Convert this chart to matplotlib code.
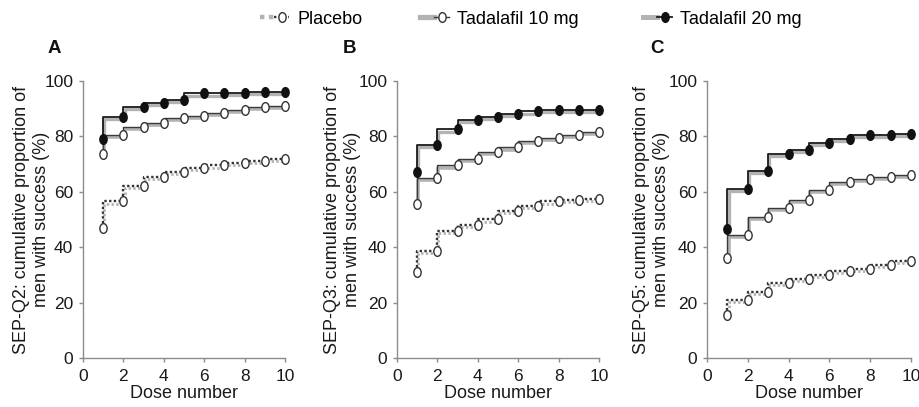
import matplotlib
matplotlib.use("Agg")
import matplotlib.pyplot as plt
import matplotlib.patheffects as pe
from matplotlib.path import Path
from matplotlib.transforms import Affine2D
from matplotlib.lines import Line2D
from matplotlib.legend_handler import HandlerTuple

plt.rcParams['font.family'] = ['Liberation Sans', 'DejaVu Sans']

# ---------------------------------------------------------------
# data (cumulative % of men with success)
# ---------------------------------------------------------------
doses = [1, 2, 3, 4, 5, 6, 7, 8, 9, 10]

placebo_q2 = [47, 56.5, 62, 65.5, 67, 68.5, 69.5, 70.5, 71, 72]
tad10_q2 = [73.5, 80.5, 83.5, 85, 86.5, 87.5, 88.5, 89.5, 90.5, 91]
tad20_q2 = [79, 87, 90.5, 92, 93, 95.5, 95.5, 95.7, 96, 96]

placebo_q3 = [31, 38.5, 46, 48, 50, 53, 55, 56.5, 57, 57.5]
tad10_q3 = [55.5, 65, 69.5, 72, 74.5, 76, 78.5, 79.5, 80.5, 81.5]
tad20_q3 = [67, 77, 82.5, 86, 87, 88, 89, 89.5, 89.5, 89.5]

placebo_q5 = [15.5, 21, 24, 27, 28.5, 30, 31.5, 32, 33.5, 35]
tad10_q5 = [36, 44.5, 51, 54, 57, 60.5, 63.5, 64.5, 65.5, 66]
tad20_q5 = [46.5, 61, 67.5, 73.5, 75, 77.5, 79, 80.5, 80.5, 81]

panel_letters = ["A", "B", "C"]
ylabels = ["SEP-Q2: cumulative proportion of\nmen with success (%)",
           "SEP-Q3: cumulative proportion of\nmen with success (%)",
           "SEP-Q5: cumulative proportion of\nmen with success (%)"]
series_names = ["Placebo", "Tadalafil 10 mg", "Tadalafil 20 mg"]

panels = [
    (placebo_q2, tad10_q2, tad20_q2),
    (placebo_q3, tad10_q3, tad20_q3),
    (placebo_q5, tad10_q5, tad20_q5),
]

# slightly tall oval marker like the scanned figure
OVAL = Path.unit_circle().transformed(Affine2D().scale(0.75, 1.0))

SHADOW = '#b3b3b3'
styles = [
    dict(ls=(0, (1, 1)), lw=1.7, color='#333333', mfc='white', mec='#333333',
         shadow_lw=2.0),
    dict(ls='-', lw=1.0, color='#3a3a3a', mfc='white', mec='#333333',
         shadow_lw=2.6),
    dict(ls='-', lw=1.3, color='#1a1a1a', mfc='#111111', mec='#111111',
         shadow_lw=2.4),
]

fig = plt.figure(figsize=(9.2, 4.07), dpi=100)

axes_rects = [
    [0.0902, 0.1204, 0.2196, 0.6806],
    [0.4315, 0.1204, 0.2196, 0.6806],
    [0.7685, 0.1204, 0.2217, 0.6806],
]
letter_x = [48 / 920, 343 / 920, 650 / 920]
ylabel_x = [-0.165, -0.180, -0.183]

for i, rect in enumerate(axes_rects):
    ax = fig.add_axes(rect)
    for values, st in zip(panels[i], styles):
        shadow = pe.SimpleLineShadow(offset=(0.8, -1.5), shadow_color=SHADOW,
                                     alpha=1.0, linewidth=st['shadow_lw'])
        ax.step(doses, values, where='pre', ls=st['ls'], lw=st['lw'],
                color=st['color'], clip_on=False, zorder=3,
                path_effects=[shadow, pe.Normal()])
        ax.plot(doses, values, ls='none', marker=OVAL, ms=7,
                mfc=st['mfc'], mec=st['mec'], mew=1.0,
                clip_on=False, zorder=4)

    ax.set_xlim(0, 10)
    ax.set_ylim(0, 100)
    ax.set_xticks([0, 2, 4, 6, 8, 10])
    ax.set_yticks([0, 20, 40, 60, 80, 100])
    for side in ['top', 'right']:
        ax.spines[side].set_visible(False)
    for side in ['left', 'bottom']:
        ax.spines[side].set_color('#8c8c8c')
        ax.spines[side].set_linewidth(1.0)
    ax.tick_params(direction='out', length=3, width=1, colors='#8c8c8c',
                   labelcolor='#1a1a1a', labelsize=12.5)
    ax.tick_params(axis='x', pad=5)
    ax.tick_params(axis='y', pad=4)
    ax.set_xlabel("Dose number", fontsize=13, color='#1a1a1a', labelpad=1)
    ax.set_ylabel(ylabels[i], fontsize=13, color='#1a1a1a')
    ax.yaxis.set_label_coords(ylabel_x[i], 0.5)
    fig.text(letter_x[i], (407 - 53) / 407, panel_letters[i], fontsize=13.5,
             fontweight='bold', color='#111111', ha='left', va='baseline')

# legend entries at the top, placed one by one like the original
legend_x = [260, 420, 643]
for st, name, lx in zip(styles, series_names, legend_x):
    back = Line2D([], [], color=SHADOW, lw=st['shadow_lw'] + 1.2, ls=st['ls'])
    front = Line2D([], [], color=st['color'], lw=st['lw'], ls=st['ls'],
                   marker=OVAL, ms=7, mfc=st['mfc'], mec=st['mec'], mew=1.0)
    fig.legend([(back, front)], [name], loc='center left',
               bbox_to_anchor=(lx / 920, 1 - 19 / 407), frameon=False,
               fontsize=13, handlelength=1.6, handletextpad=0.45,
               borderpad=0, borderaxespad=0,
               handler_map={tuple: HandlerTuple(ndivide=None)})

fig.savefig("out.png", dpi=100)
